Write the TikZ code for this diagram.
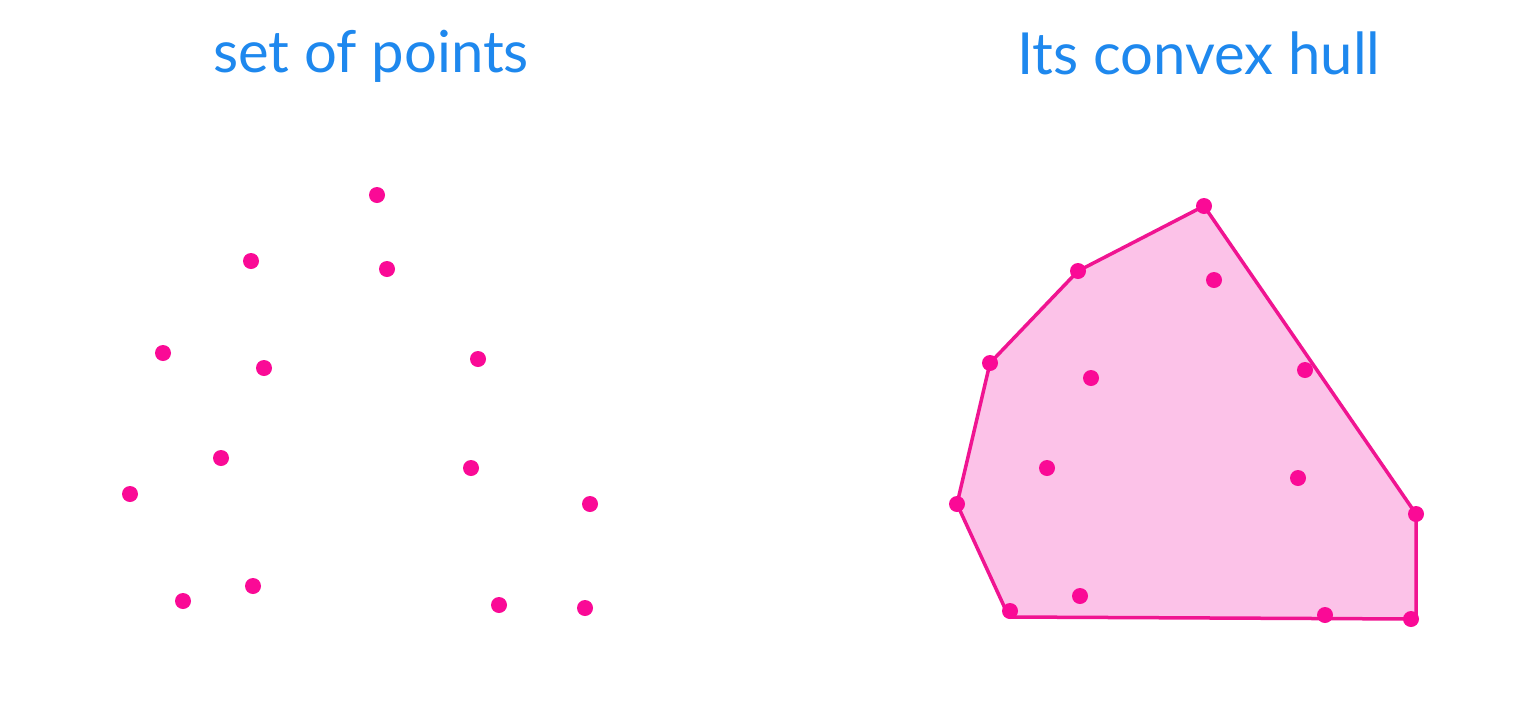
\documentclass[tikz,border=0pt]{standalone}
\usepackage{fontspec}
\setmainfont{Lato}
\definecolor{titleblue}{RGB}{30,136,238}
\definecolor{dotpink}{RGB}{250,10,150}
\definecolor{hullline}{RGB}{240,20,145}
\definecolor{hullfill}{RGB}{252,194,232}
\tikzset{
  pt/.style={circle,fill=dotpink,inner sep=0pt,minimum size=16pt},
  title/.style={text=titleblue,font=\fontsize{58}{60}\selectfont,anchor=base},
  hull/.style={draw=hullline,fill=hullfill,line width=3.5pt,line join=round}
}
\begin{document}
\begin{tikzpicture}[x=1pt,y=-1pt]
\useasboundingbox[fill=white] (0,0) rectangle (1536,716);
\node[title] (t1) at (371,72) {set of points};
\node[title] (t2) at (1199,74) {Its convex hull};
% left set
\foreach \n/\x/\y in {a/377/195,b/251/261,c/387/269,d/163/353,e/264/368,f/478/359,g/221/458,h/130/494,i/471/468,j/590/504,k/183/601,l/253/586,m/499/605,n/585/608}
  \node[pt] (L\n) at (\x,\y) {};
% hull
\coordinate (h1) at (1204,206);
\coordinate (h2) at (1078,271);
\coordinate (h3) at (990,363);
\coordinate (h4) at (957,504);
\coordinate (h5) at (1009,617);
\coordinate (h6) at (1416,619);
\coordinate (h7) at (1416,514);
\draw[hull] (h1) -- (h2) -- (h3) -- (h4) -- (h5) -- (h6) -- (h7) -- cycle;
\foreach \n/\x/\y in {a/1204/206,b/1078/271,c/990/363,d/957/504,e/1010/611,f/1411/619,g/1416/514,h/1214/280,i/1091/378,j/1305/370,k/1047/468,l/1298/478,m/1080/596,n/1325/615}
  \node[pt] (R\n) at (\x,\y) {};
\end{tikzpicture}
\end{document}
